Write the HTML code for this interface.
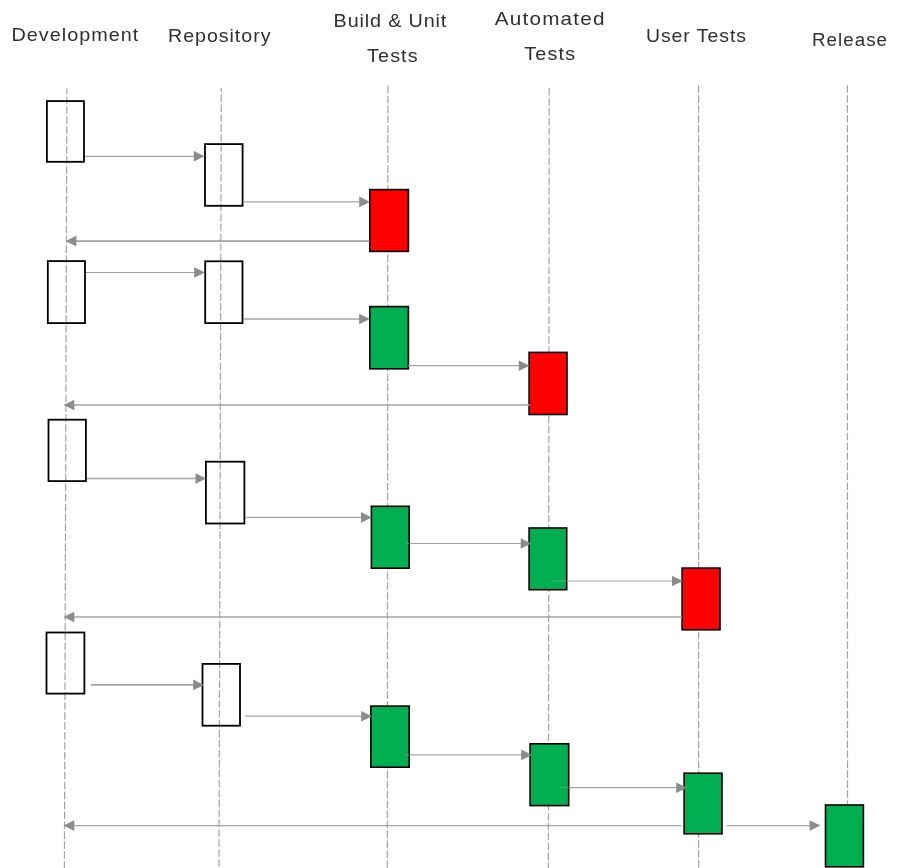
<!DOCTYPE html>
<html lang="en"><head><meta charset="utf-8"><title>Pipeline feedback diagram</title>
<style>html,body{margin:0;padding:0;background:#fff}body{width:898px;height:868px;overflow:hidden}svg{display:block}text{font-family:"Liberation Sans",sans-serif;font-size:18px;fill:#303030}</style></head><body>
<svg width="898" height="868" viewBox="0 0 898 868">
<rect x="0" y="0" width="898" height="868" fill="#ffffff"/>
<g stroke="#a4a4a4" stroke-width="1.2" stroke-dasharray="7.6 2.33" fill="none">
<line x1="66.9" y1="88.2" x2="64.4" y2="870" stroke-dashoffset="1.6"/>
<line x1="221.3" y1="88.0" x2="219.0" y2="870" stroke-dashoffset="3.4"/>
<line x1="387.9" y1="85.7" x2="387.3" y2="870" stroke-dashoffset="0.0"/>
<line x1="549.2" y1="88.0" x2="548.4" y2="870" stroke-dashoffset="0.0"/>
<line x1="698.6" y1="85.4" x2="698.6" y2="870" stroke-dashoffset="0.0"/>
<line x1="847.4" y1="85.2" x2="847.5" y2="870" stroke-dashoffset="0.0"/>
</g>
<g stroke="#000000">
<rect x="46.90" y="101.10" width="37.10" height="60.70" fill="none" stroke-width="1.8"/>
<rect x="205.00" y="144.10" width="37.60" height="61.70" fill="none" stroke-width="1.8"/>
<rect x="369.80" y="189.60" width="38.60" height="61.80" fill="#fe0000" stroke-width="1.6"/>
<rect x="47.80" y="261.10" width="37.20" height="62.00" fill="none" stroke-width="1.8"/>
<rect x="205.20" y="261.30" width="37.30" height="61.80" fill="none" stroke-width="1.8"/>
<rect x="369.80" y="306.60" width="38.60" height="62.20" fill="#00b050" stroke-width="1.6"/>
<rect x="529.10" y="352.40" width="37.90" height="62.10" fill="#fe0000" stroke-width="1.6"/>
<rect x="48.50" y="419.70" width="37.40" height="61.40" fill="none" stroke-width="1.8"/>
<rect x="205.90" y="461.70" width="38.50" height="61.80" fill="none" stroke-width="1.8"/>
<rect x="371.40" y="506.30" width="37.80" height="61.90" fill="#00b050" stroke-width="1.6"/>
<rect x="529.10" y="528.00" width="37.60" height="61.70" fill="#00b050" stroke-width="1.6"/>
<rect x="682.10" y="568.10" width="37.90" height="61.70" fill="#fe0000" stroke-width="1.6"/>
<rect x="46.50" y="632.50" width="37.90" height="61.10" fill="none" stroke-width="1.8"/>
<rect x="202.50" y="663.90" width="37.50" height="61.80" fill="none" stroke-width="1.8"/>
<rect x="370.80" y="706.10" width="38.40" height="61.10" fill="#00b050" stroke-width="1.6"/>
<rect x="530.10" y="743.80" width="38.60" height="61.80" fill="#00b050" stroke-width="1.6"/>
<rect x="684.10" y="773.20" width="37.90" height="60.60" fill="#00b050" stroke-width="1.6"/>
<rect x="825.50" y="805.00" width="37.90" height="61.80" fill="#00b050" stroke-width="1.6"/>
</g>
<g stroke="#a3a3a3" fill="none">
<line x1="85.0" y1="156.3" x2="194.8" y2="156.3" stroke-width="1.3"/>
<line x1="243.5" y1="201.9" x2="360.2" y2="201.9" stroke-width="1.2"/>
<line x1="369.5" y1="241.1" x2="75.4" y2="241.1" stroke-width="1.6"/>
<line x1="86.0" y1="272.5" x2="195.2" y2="272.5" stroke-width="1.2"/>
<line x1="243.4" y1="319.0" x2="360.2" y2="319.0" stroke-width="1.6"/>
<line x1="408.0" y1="365.7" x2="519.8" y2="365.7" stroke-width="1.2"/>
<line x1="530.0" y1="405.0" x2="73.3" y2="405.0" stroke-width="1.5"/>
<line x1="87.0" y1="478.5" x2="196.5" y2="478.5" stroke-width="1.3"/>
<line x1="245.0" y1="517.4" x2="362.0" y2="517.4" stroke-width="1.2"/>
<line x1="406.0" y1="543.5" x2="410.0" y2="543.5" stroke-width="1.2" stroke-opacity="0.45"/>
<line x1="410.0" y1="543.5" x2="521.7" y2="543.5" stroke-width="1.2"/>
<line x1="552.0" y1="581.0" x2="567.5" y2="581.0" stroke-width="1.2" stroke-opacity="0.45"/>
<line x1="567.5" y1="581.0" x2="673.0" y2="581.0" stroke-width="1.2"/>
<line x1="682.0" y1="617.0" x2="73.3" y2="617.0" stroke-width="1.5"/>
<line x1="91.0" y1="684.9" x2="194.2" y2="684.9" stroke-width="1.6"/>
<line x1="245.0" y1="716.2" x2="362.2" y2="716.2" stroke-width="1.2"/>
<line x1="405.0" y1="754.9" x2="410.0" y2="754.9" stroke-width="1.2" stroke-opacity="0.45"/>
<line x1="410.0" y1="754.9" x2="522.2" y2="754.9" stroke-width="1.2"/>
<line x1="560.0" y1="787.7" x2="569.5" y2="787.7" stroke-width="1.2" stroke-opacity="0.45"/>
<line x1="569.5" y1="787.7" x2="677.2" y2="787.7" stroke-width="1.2"/>
<line x1="681.5" y1="825.6" x2="73.3" y2="825.6" stroke-width="1.3"/>
<line x1="726.6" y1="825.6" x2="810.6" y2="825.6" stroke-width="1.3"/>
</g>
<g fill="#8c8c8c" stroke="none">
<polygon points="204.6,156.3 193.8,151.0 193.8,161.6"/>
<polygon points="370.0,201.9 359.2,196.6 359.2,207.2"/>
<polygon points="65.6,241.1 76.4,235.8 76.4,246.4"/>
<polygon points="205.0,272.5 194.2,267.2 194.2,277.8"/>
<polygon points="370.0,319.0 359.2,313.7 359.2,324.3"/>
<polygon points="529.6,365.7 518.8,360.4 518.8,371.0"/>
<polygon points="63.5,405.0 74.3,399.7 74.3,410.3"/>
<polygon points="206.3,478.5 195.5,473.2 195.5,483.8"/>
<polygon points="371.8,517.4 361.0,512.1 361.0,522.7"/>
<polygon points="531.5,543.5 520.7,538.2 520.7,548.8"/>
<polygon points="682.8,581.0 672.0,575.7 672.0,586.3"/>
<polygon points="63.5,617.0 74.3,611.7 74.3,622.3"/>
<polygon points="204.0,684.9 193.2,679.6 193.2,690.2"/>
<polygon points="372.0,716.2 361.2,710.9 361.2,721.5"/>
<polygon points="532.0,754.9 521.2,749.6 521.2,760.2"/>
<polygon points="687.0,787.7 676.2,782.4 676.2,793.0"/>
<polygon points="63.5,825.6 74.3,820.3 74.3,830.9"/>
<polygon points="820.4,825.6 809.6,820.3 809.6,830.9"/>
</g>
<defs><filter id="g" x="0" y="0" width="100%" height="100%" filterUnits="userSpaceOnUse" color-interpolation-filters="sRGB"><feColorMatrix type="saturate" values="1"/></filter></defs>
<g filter="url(#g)">
<text transform="translate(11.4 41.3) scale(1.10 1)" textLength="115.4" lengthAdjust="spacing">Development</text>
<text transform="translate(168.0 41.5) scale(1.09 1)" textLength="94.0" lengthAdjust="spacing">Repository</text>
<text transform="translate(333.6 27.3) scale(1.10 1)" textLength="102.5" lengthAdjust="spacing">Build &amp; Unit</text>
<text transform="translate(367.1 62.4) scale(1.10 1)" textLength="45.9" lengthAdjust="spacing">Tests</text>
<text transform="translate(494.8 24.9) scale(1.15 1)" textLength="95.4" lengthAdjust="spacing">Automated</text>
<text transform="translate(524.2 60.0) scale(1.10 1)" textLength="46.4" lengthAdjust="spacing">Tests</text>
<text transform="translate(645.9 41.8) scale(1.08 1)" textLength="92.7" lengthAdjust="spacing">User Tests</text>
<text transform="translate(812.0 45.6) scale(1.04 1)" textLength="72.1" lengthAdjust="spacing">Release</text>
</g>
</svg></body></html>
